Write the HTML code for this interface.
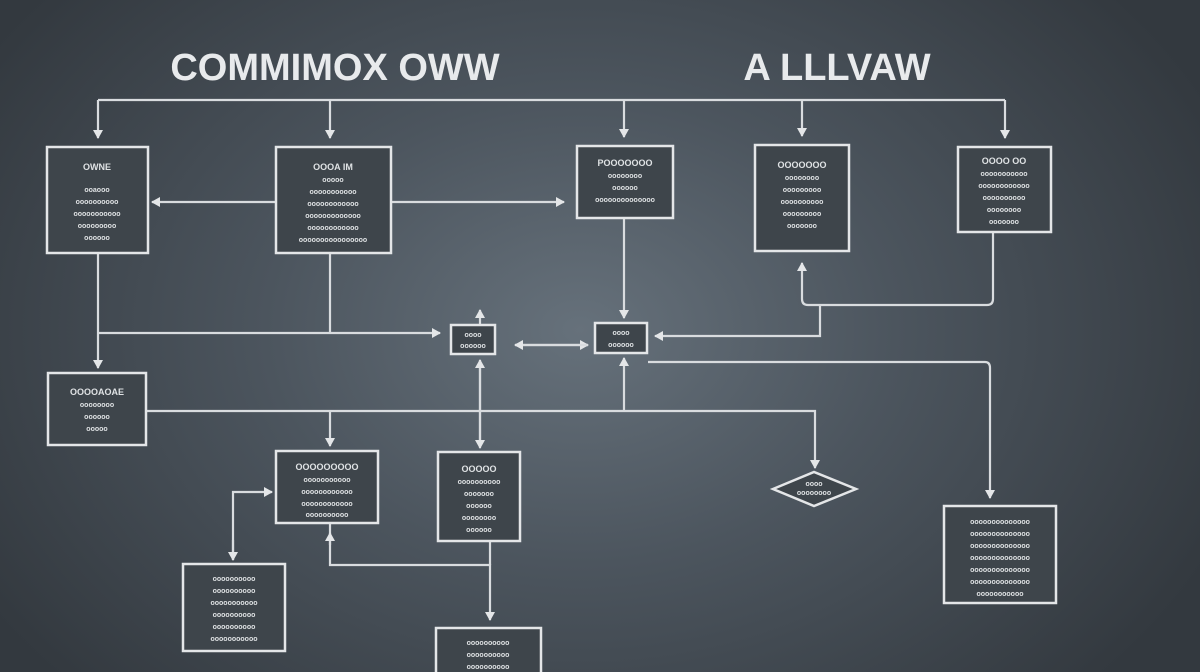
<!DOCTYPE html>
<html><head><meta charset="utf-8"><style>
html,body{margin:0;padding:0}
body{width:1200px;height:672px;overflow:hidden;background:radial-gradient(ellipse 700px 520px at 580px 330px,#66717b 0%,#4c555e 45%,#33393f 100%);font-family:"Liberation Sans",sans-serif}
svg{position:absolute;left:0;top:0}
</style></head><body>
<svg width="1200" height="672" viewBox="0 0 1200 672">
<defs><marker id="a" markerWidth="10" markerHeight="10" refX="8" refY="5" orient="auto" markerUnits="userSpaceOnUse"><path d="M0,0 L9,5 L0,10 Z" fill="#e4e6e8"/></marker></defs>
<g fill="none" stroke="#d9dcdf" stroke-width="2.2">
<path d="M98,100 H1005"/>
<path d="M98,100 V138" marker-end="url(#a)"/>
<path d="M330,100 V138" marker-end="url(#a)"/>
<path d="M624,100 V137" marker-end="url(#a)"/>
<path d="M802,100 V136" marker-end="url(#a)"/>
<path d="M1005,100 V138" marker-end="url(#a)"/>
<path d="M276,202 H152" marker-end="url(#a)"/>
<path d="M391,202 H564" marker-end="url(#a)"/>
<path d="M98,253 V368" marker-end="url(#a)"/>
<path d="M98,333 H440" marker-end="url(#a)"/>
<path d="M330,253 V333"/>
<path d="M480,325 V310" marker-end="url(#a)"/>
<path d="M515,345 H588" marker-end="url(#a)"/>
<path d="M588,345 H515" marker-end="url(#a)"/>
<path d="M624,218 V318" marker-end="url(#a)"/>
<path d="M820,305 V336 H655" marker-end="url(#a)"/>
<path d="M993,232 V299 Q993,305 987,305 H808 Q802,305 802,299 V263" marker-end="url(#a)"/>
<path d="M648,362 H985 Q990,362 990,368 V498" marker-end="url(#a)"/>
<path d="M146,411 H815 V468" marker-end="url(#a)"/>
<path d="M330,411 V446" marker-end="url(#a)"/>
<path d="M480,368 V448" marker-end="url(#a)"/>
<path d="M480,440 V360" marker-end="url(#a)"/>
<path d="M624,411 V358" marker-end="url(#a)"/>
<path d="M233,560 V492 H272" marker-end="url(#a)"/>
<path d="M233,540 V560" marker-end="url(#a)"/>
<path d="M330,523 V565 H490 V620" marker-end="url(#a)"/>
<path d="M330,545 V533" marker-end="url(#a)"/>
<path d="M490,541 V565"/>
</g>
<g fill="#3e454b" stroke="#e4e6e8" stroke-width="2.5">
<rect x="47" y="147" width="101" height="106"/>
<rect x="276" y="147" width="115" height="106"/>
<rect x="577" y="146" width="96" height="72"/>
<rect x="755" y="145" width="94" height="106"/>
<rect x="958" y="147" width="93" height="85"/>
<rect x="451" y="325" width="44" height="29"/>
<rect x="595" y="323" width="52" height="30"/>
<rect x="48" y="373" width="98" height="72"/>
<rect x="276" y="451" width="102" height="72"/>
<rect x="438" y="452" width="82" height="89"/>
<rect x="183" y="564" width="102" height="87"/>
<rect x="436" y="628" width="105" height="50"/>
<rect x="944" y="506" width="112" height="97"/>
<path d="M773,489 L814,472 L856,489 L814,506 Z"/>
</g>
<g fill="#e8eaec" font-weight="bold" text-anchor="middle">
<text x="335" y="80" font-size="38">COMMIMOX OWW</text>
<text x="837" y="80" font-size="38">A LLLVAW</text>
</g>
<g fill="#dfe2e4" font-size="7" font-weight="bold" text-anchor="middle">
<text x="97" y="170" font-size="9">OWNE</text><text x="97" y="192">ooaooo</text><text x="97" y="204">oooooooooo</text><text x="97" y="216">ooooooooooo</text><text x="97" y="228">ooooooooo</text><text x="97" y="240">oooooo</text>
<text x="333" y="170" font-size="9">OOOA IM</text><text x="333" y="182">ooooo</text><text x="333" y="194">ooooooooooo</text><text x="333" y="206">oooooooooooo</text><text x="333" y="218">ooooooooooooo</text><text x="333" y="230">oooooooooooo</text><text x="333" y="242">oooooooooooooooo</text>
<text x="625" y="166" font-size="9">POOOOOOO</text><text x="625" y="178">oooooooo</text><text x="625" y="190">oooooo</text><text x="625" y="202">oooooooooooooo</text>
<text x="802" y="168" font-size="9">OOOOOOO</text><text x="802" y="180">oooooooo</text><text x="802" y="192">ooooooooo</text><text x="802" y="204">oooooooooo</text><text x="802" y="216">ooooooooo</text><text x="802" y="228">ooooooo</text>
<text x="1004" y="164" font-size="9">OOOO OO</text><text x="1004" y="176">ooooooooooo</text><text x="1004" y="188">oooooooooooo</text><text x="1004" y="200">oooooooooo</text><text x="1004" y="212">oooooooo</text><text x="1004" y="224">ooooooo</text>
<text x="473" y="337">oooo</text><text x="473" y="348">oooooo</text>
<text x="621" y="335">oooo</text><text x="621" y="347">oooooo</text>
<text x="97" y="395" font-size="9">OOOOAOAE</text><text x="97" y="407">oooooooo</text><text x="97" y="419">oooooo</text><text x="97" y="431">ooooo</text>
<text x="327" y="470" font-size="9">OOOOOOOOO</text><text x="327" y="482">ooooooooooo</text><text x="327" y="494">oooooooooooo</text><text x="327" y="506">oooooooooooo</text><text x="327" y="517">oooooooooo</text>
<text x="479" y="472" font-size="9">OOOOO</text><text x="479" y="484">oooooooooo</text><text x="479" y="496">ooooooo</text><text x="479" y="508">oooooo</text><text x="479" y="520">oooooooo</text><text x="479" y="532">oooooo</text>
<text x="234" y="581">oooooooooo</text><text x="234" y="593">oooooooooo</text><text x="234" y="605">ooooooooooo</text><text x="234" y="617">oooooooooo</text><text x="234" y="629">oooooooooo</text><text x="234" y="641">ooooooooooo</text>
<text x="488" y="645">oooooooooo</text><text x="488" y="657">oooooooooo</text><text x="488" y="669">oooooooooo</text>
<text x="1000" y="524">oooooooooooooo</text><text x="1000" y="536">oooooooooooooo</text><text x="1000" y="548">oooooooooooooo</text><text x="1000" y="560">oooooooooooooo</text><text x="1000" y="572">oooooooooooooo</text><text x="1000" y="584">oooooooooooooo</text><text x="1000" y="596">ooooooooooo</text>
<text x="814" y="486">oooo</text><text x="814" y="495">oooooooo</text>
</g>
</svg>
</body></html>
